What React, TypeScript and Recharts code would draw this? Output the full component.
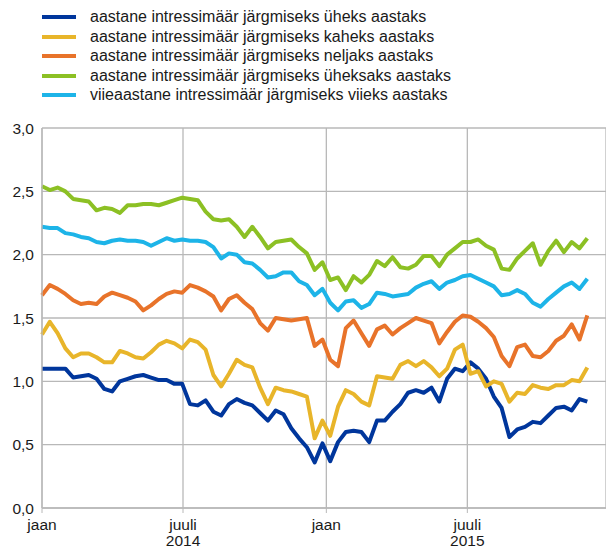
import React from 'react';
import { LineChart, Line, XAxis, YAxis, CartesianGrid } from 'recharts';

// days since 1 Jan 2014, one sample every 10 days
const days = Array.from({ length: 71 }, (_, i) => i * 10);

const oneYear = [
  1.10, 1.10, 1.10, 1.10, 1.03, 1.04, 1.05, 1.02, 0.94, 0.92,
  1.00, 1.02, 1.04, 1.05, 1.03, 1.01, 1.01, 0.98, 0.98, 0.82,
  0.81, 0.85, 0.76, 0.73, 0.82, 0.86, 0.83, 0.81, 0.75, 0.69,
  0.77, 0.74, 0.63, 0.55, 0.48, 0.36, 0.51, 0.37, 0.52, 0.60,
  0.61, 0.60, 0.52, 0.69, 0.69, 0.76, 0.82, 0.91, 0.93, 0.91,
  0.95, 0.84, 1.02, 1.10, 1.08, 1.15, 1.10, 1.02, 0.88, 0.79,
  0.56, 0.62, 0.64, 0.68, 0.67, 0.73, 0.79, 0.80, 0.77, 0.86,
  0.84,
];

const twoYear = [
  1.37, 1.47, 1.38, 1.26, 1.19, 1.22, 1.22, 1.19, 1.15, 1.15,
  1.24, 1.22, 1.19, 1.18, 1.23, 1.29, 1.32, 1.30, 1.26, 1.33,
  1.31, 1.25, 1.05, 0.96, 1.06, 1.17, 1.13, 1.11, 0.95, 0.82,
  0.95, 0.93, 0.92, 0.90, 0.88, 0.55, 0.69, 0.57, 0.80, 0.93,
  0.90, 0.84, 0.81, 1.04, 1.03, 1.02, 1.13, 1.16, 1.12, 1.16,
  1.11, 1.04, 1.10, 1.25, 1.29, 1.06, 1.08, 0.96, 1.00, 0.98,
  0.84, 0.91, 0.90, 0.97, 0.95, 0.94, 0.97, 0.97, 1.01, 1.00,
  1.11,
];

const fourYear = [
  1.68, 1.76, 1.73, 1.69, 1.64, 1.61, 1.62, 1.61, 1.67, 1.70,
  1.68, 1.66, 1.63, 1.56, 1.60, 1.65, 1.69, 1.71, 1.70, 1.76,
  1.74, 1.71, 1.67, 1.56, 1.65, 1.68, 1.62, 1.57, 1.46, 1.40,
  1.50, 1.49, 1.48, 1.49, 1.50, 1.28, 1.33, 1.17, 1.12, 1.42,
  1.48, 1.38, 1.28, 1.41, 1.44, 1.37, 1.42, 1.46, 1.50, 1.48,
  1.46, 1.30, 1.39, 1.47, 1.52, 1.51, 1.47, 1.42, 1.35, 1.20,
  1.12, 1.27, 1.29, 1.20, 1.19, 1.24, 1.32, 1.36, 1.45, 1.33,
  1.52,
];

const nineYear = [
  2.54, 2.51, 2.53, 2.50, 2.44, 2.43, 2.42, 2.35, 2.37, 2.36,
  2.33, 2.39, 2.39, 2.40, 2.40, 2.39, 2.41, 2.43, 2.45, 2.44,
  2.43, 2.34, 2.28, 2.27, 2.28, 2.22, 2.14, 2.22, 2.14, 2.05,
  2.10, 2.11, 2.12, 2.06, 2.01, 1.88, 1.94, 1.80, 1.82, 1.72,
  1.83, 1.78, 1.84, 1.95, 1.91, 1.98, 1.90, 1.89, 1.92, 1.99,
  1.99, 1.91, 2.00, 2.05, 2.10, 2.10, 2.12, 2.07, 2.04, 1.89,
  1.88, 1.97, 2.03, 2.09, 1.92, 2.03, 2.11, 2.02, 2.10, 2.05,
  2.13,
];

const fiveYearFiveYear = [
  2.22, 2.21, 2.21, 2.17, 2.16, 2.14, 2.13, 2.10, 2.09, 2.11,
  2.12, 2.11, 2.11, 2.10, 2.07, 2.10, 2.13, 2.11, 2.12, 2.11,
  2.11, 2.10, 2.06, 1.97, 2.01, 2.00, 1.94, 1.93, 1.88, 1.82,
  1.83, 1.86, 1.86, 1.79, 1.76, 1.68, 1.73, 1.62, 1.56, 1.63,
  1.64, 1.58, 1.61, 1.70, 1.69, 1.67, 1.68, 1.69, 1.74, 1.77,
  1.79, 1.73, 1.78, 1.80, 1.83, 1.84, 1.81, 1.78, 1.75, 1.68,
  1.69, 1.72, 1.69, 1.62, 1.59, 1.65, 1.70, 1.75, 1.78, 1.73,
  1.81,
];

const xTicks = [0, 181, 365, 546];
const xTickLabels = ['jaan', 'juuli', 'jaan', 'juuli'];
const xTickYears = ['', '2014', '', '2015'];
const yTicks = [0, 0.5, 1, 1.5, 2, 2.5, 3];

const series = [
  { key: 'oneYear', name: 'aastane intressimäär järgmiseks üheks aastaks', color: '#00369c' },
  { key: 'twoYear', name: 'aastane intressimäär järgmiseks kaheks aastaks', color: '#e8b52a' },
  { key: 'fourYear', name: 'aastane intressimäär järgmiseks neljaks aastaks', color: '#e8732a' },
  { key: 'nineYear', name: 'aastane intressimäär järgmiseks üheksaks aastaks', color: '#8cc024' },
  { key: 'fiveYearFiveYear', name: 'viieaastane intressimäär järgmiseks viieks aastaks', color: '#1db4e8' },
];

const data = days.map((d, i) => ({
  day: d,
  oneYear: oneYear[i],
  twoYear: twoYear[i],
  fourYear: fourYear[i],
  nineYear: nineYear[i],
  fiveYearFiveYear: fiveYearFiveYear[i],
}));

const FONT = '"Liberation Sans", Arial, sans-serif';
const GRID = '#b8b8b8';

const DateTick = (props: any) => {
  const { x, y, payload } = props;
  const idx = xTicks.indexOf(payload.value);
  return (
    <g transform={`translate(${x},${y})`}>
      <text textAnchor="middle" fill="#1a1a1a" fontSize={15.5} fontFamily={FONT} dy={15}>
        {xTickLabels[idx]}
      </text>
      {xTickYears[idx] && (
        <text textAnchor="middle" fill="#1a1a1a" fontSize={15.5} fontFamily={FONT} dy={31}>
          {xTickYears[idx]}
        </text>
      )}
    </g>
  );
};

const App: React.FC = () => {
  return (
    <div style={{ position: 'absolute', left: 0, top: 0, width: 606, height: 548, background: '#fff', fontFamily: FONT }}>
      <div style={{ position: 'absolute', left: 0, top: 7, zIndex: 2 }}>
        {series.map((s) => (
          <div key={s.key} style={{ position: 'relative', height: 19.6 }}>
            <div style={{ position: 'absolute', left: 42, top: 8, width: 34, height: 4, background: s.color }} />
            <div style={{ position: 'absolute', left: 90, top: 0, fontSize: 16, lineHeight: '19.6px', color: '#1a1a1a', whiteSpace: 'nowrap' }}>
              {s.name}
            </div>
          </div>
        ))}
      </div>
      <LineChart width={606} height={548} data={data} margin={{ top: 128, right: 0, left: 0, bottom: 0 }}>
        <CartesianGrid stroke={GRID} strokeWidth={1.3} vertical={true} horizontal={true} />
        <XAxis
          dataKey="day"
          type="number"
          domain={[0, 724]}
          ticks={xTicks}
          interval={0}
          height={40}
          stroke={GRID}
          tickSize={5}
          tickLine={{ stroke: GRID }}
          axisLine={{ stroke: GRID, strokeWidth: 1.3 }}
          tick={<DateTick />}
        />
        <YAxis
          type="number"
          domain={[0, 3]}
          ticks={yTicks}
          width={42}
          tickLine={false}
          axisLine={{ stroke: GRID, strokeWidth: 1.3 }}
          tick={{ fill: '#1a1a1a', fontSize: 15.5, fontFamily: FONT }}
          tickFormatter={(v: number) => v.toFixed(1).replace('.', ',')}
        />
        {series.map((s) => (
          <Line
            key={s.key}
            type="linear"
            dataKey={s.key}
            name={s.name}
            stroke={s.color}
            strokeWidth={4}
            strokeLinejoin="round"
            dot={false}
            isAnimationActive={false}
          />
        ))}
      </LineChart>
    </div>
  );
};

export default App;
